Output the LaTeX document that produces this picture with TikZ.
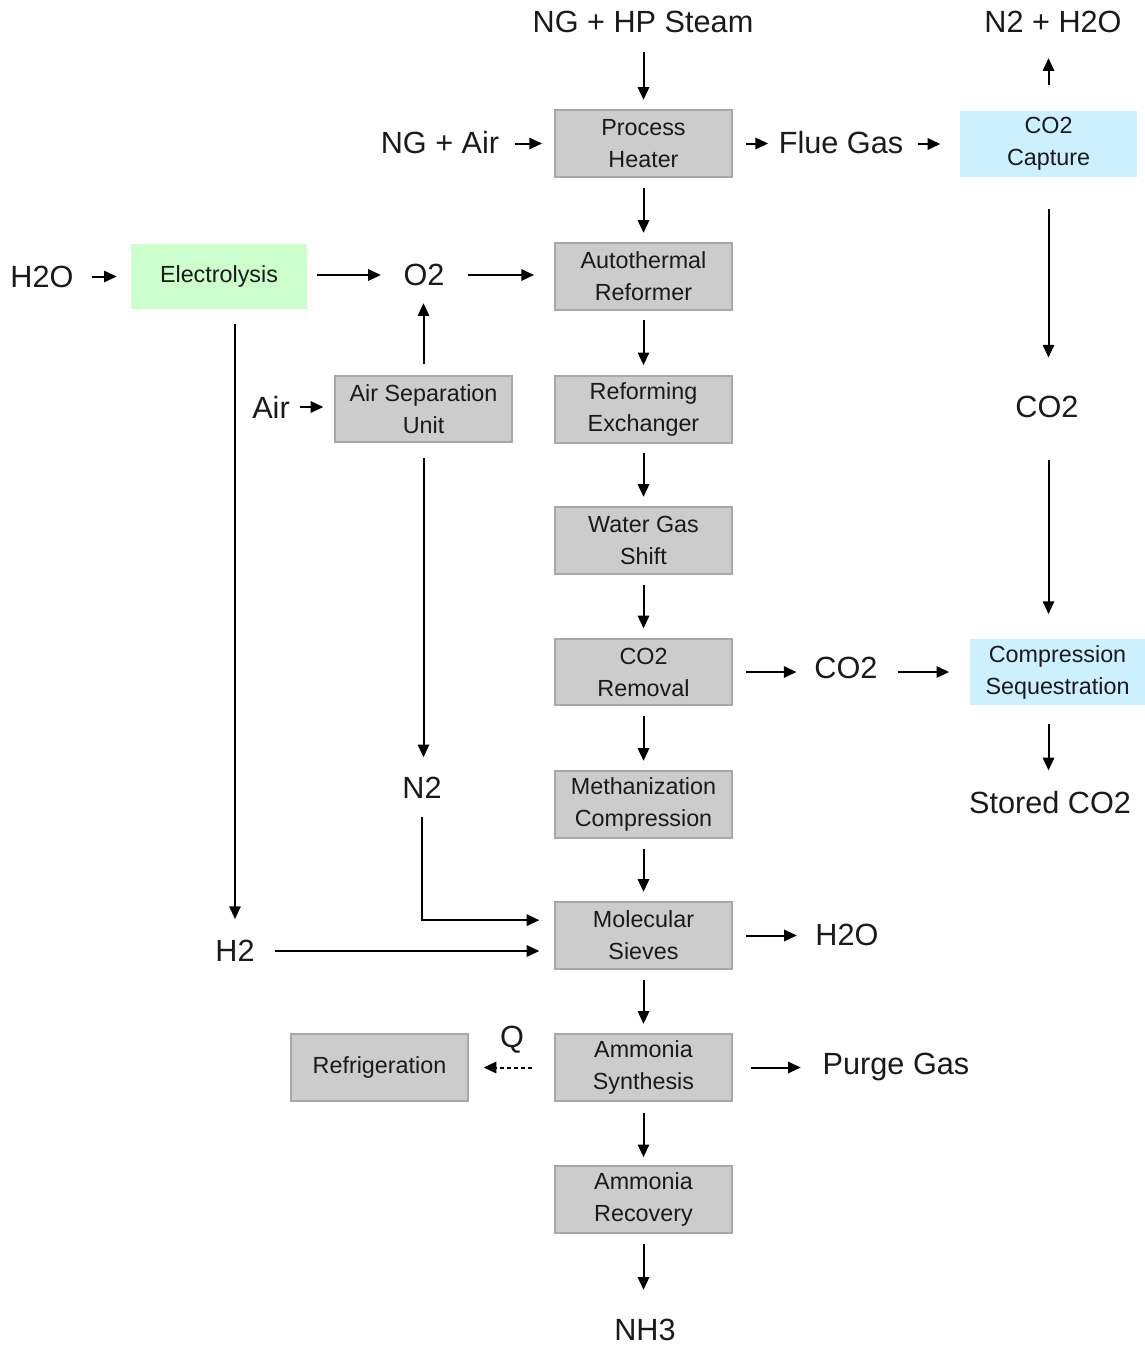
\documentclass[tikz,border=0pt]{standalone}
\usepackage{fontspec}
\setmainfont{Liberation Sans}
\usetikzlibrary{arrows.meta,calc}
\definecolor{boxgray}{HTML}{CCCCCC}
\definecolor{boxedge}{HTML}{A8A8A8}
\definecolor{elecgreen}{HTML}{CCFFCC}
\definecolor{capblue}{HTML}{CCF0FF}
\definecolor{ink}{HTML}{1A1A1A}
\begin{document}
\begin{tikzpicture}[x=0.75pt,y=-0.75pt,
  unit/.style={rectangle,draw=boxedge,line width=1.5pt,fill=boxgray,
    minimum width=132.75pt,minimum height=50pt,align=center,inner sep=0pt,
    text=ink,font=\fontsize{17.5}{24}\selectfont},
  greenunit/.style={unit,draw=none,fill=elecgreen},
  blueunit/.style={unit,draw=none,fill=capblue},
  stream/.style={inner sep=0pt,outer sep=0pt,text=ink,
    font=\fontsize{23}{28}\selectfont},
  flow/.style={draw=black,line width=1.5pt,
    -{Triangle[length=9.5pt,width=8.5pt]}},
  heatflow/.style={flow,dash pattern=on 3pt off 2.2pt}]
\useasboundingbox (0,0) rectangle (1145,1345);

% main process train
\node[unit] (ph)  at (643.5,143.5)  {Process\\Heater};
\node[unit] (atr) at (643.5,276.5)  {Autothermal\\Reformer};
\node[unit] (rex) at (643.5,409.5)  {Reforming\\Exchanger};
\node[unit] (wgs) at (643.5,540.5)  {Water Gas\\Shift};
\node[unit] (crm) at (643.5,672)    {CO2\\Removal};
\node[unit] (mth) at (643.5,804.5)  {Methanization\\Compression};
\node[unit] (ms)  at (643.5,935.5)  {Molecular\\Sieves};
\node[unit] (syn) at (643.5,1067.5) {Ammonia\\Synthesis};
\node[unit] (rec) at (643.5,1199.5) {Ammonia\\Recovery};

% side units
\node[greenunit,minimum width=132pt,minimum height=49pt] (ely) at (219,276.5) {\raisebox{-2pt}{Electrolysis}};
\node[unit] (asu) at (423.5,409) {Air Separation\\Unit};
\node[unit] (ref) at (379.5,1067.5) {Refrigeration};
\node[blueunit,minimum height=49.5pt] (cap) at (1048.5,144) {CO2\\Capture};
\node[blueunit,minimum width=131pt,minimum height=49.5pt] (seq) at (1057.5,672) {Compression\\Sequestration};

% stream labels
\node[stream] (steam) at (643,22)   {NG + HP Steam};
\node[stream] (vent)  at (1053,22)  {N2 + H2O};
\node[stream] (ngair) at (440,143)  {NG + Air};
\node[stream] (flue)  at (841,143)  {Flue Gas};
\node[stream] (h2oin) at (42,277)   {H2O};
\node[stream] (o2)    at (424,275)  {O2};
\node[stream] (air)   at (271,407)  {Air};
\node[stream] (co2a)  at (1047,407) {CO2};
\node[stream] (co2b)  at (846,668)  {CO2};
\node[stream] (store) at (1050,803) {Stored CO2};
\node[stream] (n2)    at (422,788)  {N2};
\node[stream] (h2)    at (235,951)  {H2};
\node[stream] (h2out) at (847,935)  {H2O};
\node[stream] (q)     at (512,1040) {Q};
\node[stream] (purge) at (896,1067) {Purge Gas};
\node[stream] (nh3)   at (645,1330) {NH3};

% feeds and main train
\draw[flow,shorten <=14pt,shorten >=7pt] (steam.south -| ph.north) -- (ph.north);
\draw[flow,shorten <=12pt,shorten >=9pt] (ngair.east |- ph.west) -- (ph.west);
\draw[flow,shorten <=10pt,shorten >=8pt] (ph.east) -- (flue.west |- ph.east);
\draw[flow,shorten <=11pt,shorten >=14pt] (flue.east |- cap.west) -- (cap.west);
\draw[flow,shorten <=19pt,shorten >=19pt] (cap.north) -- (cap.north |- vent.south);
\draw[flow,shorten <=7.5pt,shorten >=7pt] (ph) -- (atr);
\draw[flow,shorten <=7pt,shorten >=7.5pt] (atr) -- (rex);
\draw[flow,shorten <=7pt,shorten >=7pt] (rex) -- (wgs);
\draw[flow,shorten <=7.5pt,shorten >=7pt] (wgs) -- (crm);
\draw[flow,shorten <=7.5pt,shorten >=7pt] (crm) -- (mth);
\draw[flow,shorten <=7.5pt,shorten >=7pt] (mth) -- (ms);
\draw[flow,shorten <=7.5pt,shorten >=7pt] (ms) -- (syn);
\draw[flow,shorten <=8pt,shorten >=6pt] (syn) -- (rec);
\draw[flow,shorten <=7.5pt,shorten >=22pt] (rec.south) -- (rec.south |- nh3.north);

% oxygen and hydrogen supply
\draw[flow,shorten <=13.5pt,shorten >=10pt] (h2oin.east |- ely.west) -- (ely.west);
\draw[flow,shorten <=7pt,shorten >=17pt] (ely.east |- o2.west) -- (o2.west);
\draw[flow,shorten <=18pt,shorten >=15pt] (o2.east) -- (o2.east -| atr.west);
\draw[flow,shorten <=8pt,shorten >=13pt] (asu.north) -- (asu.north |- o2.south);
\draw[flow,shorten <=7.5pt,shorten >=8pt] (air.east) -- (air.east -| asu.west);
\draw[flow,shorten <=11pt,shorten >=15pt] (asu.south) -- (asu.south |- n2.north);
\draw[flow,shorten <=13.5pt,shorten >=11pt] (n2.south) |- ([yshift=11.5pt]ms.west);
\draw[flow,shorten <=10.5pt,shorten >=16pt] (h2.north |- ely.south) -- (h2.north);
\draw[flow,shorten <=15pt,shorten >=11pt] (h2.east) -- (h2.east -| ms.west);

% carbon dioxide handling
\draw[flow,shorten <=10pt,shorten >=13.5pt] (crm.east) -- (crm.east -| co2b.west);
\draw[flow,shorten <=15pt,shorten >=15pt] (co2b.east |- seq.west) -- (seq.west);
\draw[flow,shorten <=23pt,shorten >=29pt] (cap.south) -- (cap.south |- co2a.north);
\draw[flow,shorten <=31.5pt,shorten >=18pt] (co2a.south -| cap.south) -- (seq.north -| cap.south);
\draw[flow,shorten <=13.5pt,shorten >=16pt] (seq.south -| cap.south) -- (store.north -| cap.south);

% product-side streams
\draw[flow,shorten <=10pt,shorten >=14pt] (ms.east) -- (ms.east -| h2out.west);
\draw[heatflow,shorten <=16.5pt,shorten >=11pt] (syn.west) -- (ref.east);
\draw[flow,shorten <=13.5pt,shorten >=16.5pt] (syn.east) -- (syn.east -| purge.west);
\end{tikzpicture}
\end{document}
